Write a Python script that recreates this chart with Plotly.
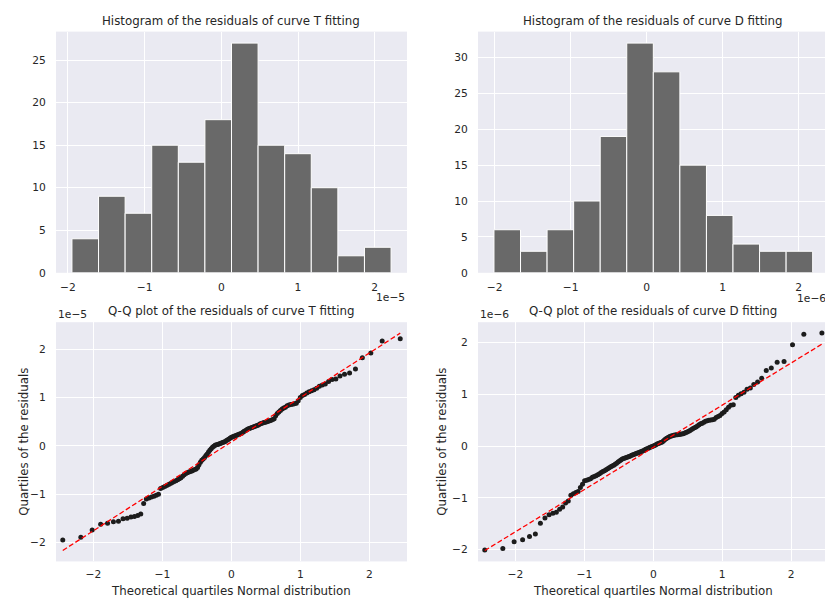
import numpy as np
import plotly.graph_objects as go

W, H = 825, 604

# ---------------- data ----------------
theoretical_quantiles = [
    -2.445, -2.183, -2.019, -1.896, -1.796, -1.711, -1.638, -1.572, -1.512, -1.457,
    -1.407, -1.359, -1.315, -1.273, -1.234, -1.196, -1.160, -1.124, -1.091, -1.058,
    -1.027, -0.997, -0.967, -0.939, -0.911, -0.884, -0.858, -0.832, -0.806, -0.781,
    -0.756, -0.733, -0.709, -0.686, -0.663, -0.640, -0.618, -0.597, -0.575, -0.554,
    -0.533, -0.512, -0.491, -0.471, -0.451, -0.431, -0.411, -0.391, -0.371, -0.352,
    -0.333, -0.314, -0.295, -0.276, -0.257, -0.239, -0.220, -0.201, -0.183, -0.164,
    -0.146, -0.128, -0.109, -0.091, -0.073, -0.055, -0.036, -0.018,
    0.0,
    0.018, 0.036, 0.055, 0.073, 0.091, 0.109, 0.128, 0.146, 0.164, 0.183,
    0.201, 0.220, 0.239, 0.257, 0.276, 0.295, 0.314, 0.333, 0.352, 0.371,
    0.391, 0.411, 0.431, 0.451, 0.471, 0.491, 0.512, 0.533, 0.554, 0.575,
    0.597, 0.618, 0.640, 0.663, 0.686, 0.709, 0.733, 0.756, 0.781, 0.806,
    0.832, 0.858, 0.884, 0.911, 0.939, 0.967, 0.997, 1.027, 1.058, 1.091,
    1.124, 1.160, 1.196, 1.234, 1.273, 1.315, 1.359, 1.407, 1.457, 1.512,
    1.572, 1.638, 1.711, 1.796, 1.896, 2.019, 2.183, 2.445,
]

# sorted residuals of curve T (units of 1e-5)
t_residuals = [
    -1.948, -1.89, -1.74, -1.62,
    -1.60, -1.57, -1.56, -1.51, -1.50, -1.47, -1.46, -1.44, -1.41,
    -1.19, -1.10, -1.08, -1.06, -1.04, -1.02, -1.00,
    -0.88, -0.86, -0.84, -0.82, -0.80, -0.78, -0.76, -0.74, -0.72, -0.70,
    -0.68, -0.66, -0.63, -0.60, -0.57,
    -0.555, -0.54, -0.53, -0.52, -0.505, -0.49, -0.48, -0.45, -0.39, -0.34,
    -0.30, -0.27, -0.24,
    -0.20, -0.17, -0.13, -0.09, -0.06, -0.03, -0.01, 0.01, 0.02, 0.03,
    0.04, 0.05, 0.06, 0.07, 0.08, 0.09, 0.11, 0.125,
    0.14, 0.16, 0.18, 0.19, 0.20, 0.21, 0.22, 0.23, 0.24, 0.25,
    0.26, 0.28, 0.30, 0.31, 0.33, 0.35, 0.36, 0.37, 0.38, 0.39,
    0.40, 0.41, 0.42, 0.43, 0.45, 0.46, 0.47,
    0.485, 0.49, 0.50, 0.51, 0.52, 0.53, 0.545, 0.56, 0.62, 0.67,
    0.70, 0.73, 0.76, 0.78, 0.80,
    0.83, 0.845, 0.855, 0.86, 0.87, 0.88, 0.93, 1.00, 1.04, 1.06,
    1.09, 1.12, 1.14, 1.16,
    1.19, 1.23, 1.26, 1.28, 1.33, 1.37, 1.38, 1.445, 1.48, 1.507,
    1.59, 1.82, 1.92, 2.17, 2.213,
]

# sorted residuals of curve D (units of 1e-6)
d_residuals = [
    -2.008, -1.98, -1.85, -1.81, -1.75, -1.70,
    -1.49, -1.39, -1.33,
    -1.30, -1.28, -1.22, -1.18, -1.10, -1.06,
    -0.95, -0.92, -0.90, -0.88, -0.80, -0.74, -0.67, -0.66, -0.645, -0.63,
    -0.605, -0.59, -0.575, -0.555, -0.535, -0.51, -0.49, -0.475, -0.46, -0.44,
    -0.42, -0.40, -0.385, -0.37, -0.35, -0.33, -0.31, -0.29, -0.27,
    -0.25, -0.24, -0.23, -0.22, -0.21, -0.20, -0.19, -0.18, -0.17, -0.16,
    -0.15, -0.14, -0.13, -0.12, -0.11, -0.10, -0.09, -0.075, -0.06, -0.05,
    -0.04, -0.03, -0.02, -0.01, 0.0, 0.01, 0.025, 0.04, 0.05, 0.06,
    0.07, 0.08,
    0.10, 0.12, 0.14, 0.155, 0.17, 0.185, 0.195, 0.20, 0.21, 0.215,
    0.22, 0.22, 0.225, 0.23, 0.235, 0.24, 0.25, 0.26, 0.27, 0.285,
    0.30, 0.32, 0.34, 0.355, 0.37, 0.39, 0.41, 0.43,
    0.44, 0.46, 0.48, 0.49, 0.50, 0.505, 0.51, 0.52, 0.55, 0.57,
    0.59, 0.63, 0.66, 0.70, 0.75,
    0.79, 0.80, 0.94, 0.98, 1.01, 1.04, 1.10, 1.12,
    1.19, 1.24, 1.31, 1.46,
    1.51, 1.62, 1.635,
    1.96, 2.16, 2.184,
]

t_hist_counts = [4, 9, 7, 15, 13, 18, 27, 15, 14, 10, 2, 3]
d_hist_counts = [6, 3, 6, 10, 19, 32, 28, 15, 8, 4, 3, 3]

# fitted reference lines (intercept, slope)
t_fit_intercept, t_fit_slope = 0.083, 0.919
d_fit_intercept, d_fit_slope = -0.025, 0.816

hist_titles = ["Histogram of the residuals of curve T fitting",
               "Histogram of the residuals of curve D fitting"]
qq_titles = ["Q-Q plot of the residuals of curve T fitting",
             "Q-Q plot of the residuals of curve D fitting"]
qq_xlabel = "Theoretical quartiles Normal distribution"
qq_ylabel = "Quartiles of the residuals"
offset_labels = ["1e\u22125", "1e\u22126"]

# ---------------- styling ----------------
FONT = "DejaVu Sans"
TXT = "#262626"
BG = "#EAEAF2"
BAR = "#696969"


def fx(px):
    return px / W


def fy(py):
    return 1 - py / H


# pixel boxes of axes (left, right, top, bottom)
L_LEFT, L_RIGHT = 56, 407
R_LEFT, R_RIGHT = 478, 825
T_TOP, T_BOT = 32, 276
B_TOP, B_BOT = 326, 568


def axis_style(**kw):
    d = dict(showgrid=True, gridcolor="white", gridwidth=1, zeroline=False,
             showline=False, ticks="outside", tickcolor="rgba(0,0,0,0)",
             tickfont=dict(family=FONT, size=10.7, color=TXT), fixedrange=True)
    d.update(kw)
    return d


fig = go.Figure()


def add_hist(residuals, counts, xa, ya):
    edges = np.linspace(min(residuals), max(residuals), len(counts) + 1)
    centers = (edges[:-1] + edges[1:]) / 2
    width = edges[1] - edges[0]
    fig.add_trace(go.Bar(x=centers, y=counts, width=width,
                         marker=dict(color=BAR, line=dict(color="white", width=1)),
                         xaxis=xa, yaxis=ya, showlegend=False, hoverinfo="skip"))


def add_qq(q, residuals, a, b, xa, ya):
    fig.add_trace(go.Scatter(x=q, y=residuals, mode="markers",
                             marker=dict(color="#1c1c1c", size=5),
                             xaxis=xa, yaxis=ya, showlegend=False, hoverinfo="skip"))
    qmin, qmax = min(q), max(q)
    fig.add_trace(go.Scatter(x=[qmin, qmax], y=[a + b * qmin, a + b * qmax],
                             mode="lines", line=dict(color="red", width=1.3, dash="5px,2.5px"),
                             xaxis=xa, yaxis=ya, showlegend=False, hoverinfo="skip"))


add_hist(t_residuals, t_hist_counts, "x", "y")
add_hist(d_residuals, d_hist_counts, "x2", "y2")
add_qq(theoretical_quantiles, t_residuals, t_fit_intercept, t_fit_slope, "x3", "y3")
add_qq(theoretical_quantiles, d_residuals, d_fit_intercept, d_fit_slope, "x4", "y4")

layout = dict(
    width=W, height=H, autosize=False,
    margin=dict(l=0, r=0, t=0, b=0, pad=0),
    paper_bgcolor="white", plot_bgcolor=BG,
    font=dict(family=FONT, color=TXT),
    bargap=0,
    xaxis=axis_style(domain=[fx(L_LEFT), fx(L_RIGHT)], anchor="y",
                     range=[-2.156, 2.421], dtick=1, tick0=0, ticklen=4),
    yaxis=axis_style(domain=[fy(T_BOT), fy(T_TOP)], anchor="x",
                     range=[0, 28.35], dtick=5, tick0=0, ticklen=7),
    xaxis2=axis_style(domain=[fx(R_LEFT), fx(R_RIGHT)], anchor="y2",
                      range=[-2.218, 2.346], dtick=1, tick0=0, ticklen=4),
    yaxis2=axis_style(domain=[fy(T_BOT), fy(T_TOP)], anchor="x2",
                      range=[0, 33.6], dtick=5, tick0=0, ticklen=7),
    xaxis3=axis_style(domain=[fx(L_LEFT), fx(L_RIGHT)], anchor="y3",
                      range=[-2.543, 2.543], dtick=1, tick0=0, ticklen=3),
    yaxis3=axis_style(domain=[fy(B_BOT), fy(B_TOP)], anchor="x3",
                      range=[-2.39, 2.556], dtick=1, tick0=0, ticklen=7),
    xaxis4=axis_style(domain=[fx(R_LEFT), fx(R_RIGHT)], anchor="y4",
                      range=[-2.543, 2.49], dtick=1, tick0=0, ticklen=3),
    yaxis4=axis_style(domain=[fy(B_BOT), fy(B_TOP)], anchor="x4",
                      range=[-2.23, 2.394], dtick=1, tick0=0, ticklen=7),
)

LC = (L_LEFT + L_RIGHT) / 2
RC = (R_LEFT + 828.5) / 2


def ann(text, px, py, size=11.8, xanchor="center", yanchor="middle", angle=0):
    return dict(text=text, x=fx(px), y=fy(py), xref="paper", yref="paper",
                xanchor=xanchor, yanchor=yanchor, showarrow=False, textangle=angle,
                font=dict(family=FONT, size=size, color=TXT))


annotations = [
    ann(hist_titles[0], LC, 21),
    ann(hist_titles[1], RC, 21),
    ann(qq_titles[0], LC, 315),
    ann(qq_titles[1], RC, 315),
    ann(qq_xlabel, LC, 598),
    ann(qq_xlabel, RC, 598),
    ann(qq_ylabel, 24, (B_TOP + B_BOT) / 2, angle=-90),
    ann(qq_ylabel, 442, (B_TOP + B_BOT) / 2, angle=-90),
    ann(offset_labels[0], L_RIGHT, 301, size=10.7, xanchor="right"),
    ann(offset_labels[1], 828.5, 302, size=10.7, xanchor="right"),
    ann(offset_labels[0], L_LEFT, 318, size=10.7, xanchor="left"),
    ann(offset_labels[1], R_LEFT, 318, size=10.7, xanchor="left"),
]
layout["annotations"] = annotations

fig.update_layout(**layout)

fig.write_html(
    "out.html",
    config={"displayModeBar": False, "staticPlot": True},
    post_script="document.body.style.margin='0px';document.body.style.overflow='hidden';",
)
